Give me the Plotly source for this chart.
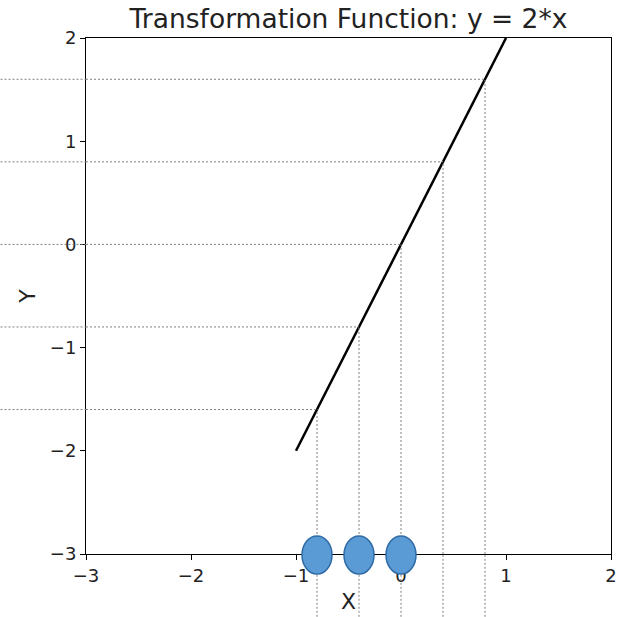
import plotly.graph_objects as go

# data
line_x = [-1, 1]
line_y = [-2, 2]
sample_x = [-0.8, -0.4, 0, 0.4, 0.8]
sample_y = [-1.6, -0.8, 0, 0.8, 1.6]
dot_x = [-0.8, -0.4, 0]
x_ticks = [-3, -2, -1, 0, 1, 2]
y_ticks = [-3, -2, -1, 0, 1, 2]
x_range = [-3, 2]
y_range = [-3, 2]

FONT = "DejaVu Sans"
GUIDE = dict(color="#808080", width=1, dash="2px,2px")

fig = go.Figure()
fig.add_trace(go.Scatter(x=line_x, y=line_y, mode="lines",
                         line=dict(color="black", width=2.5), showlegend=False,
                         hoverinfo="skip"))

shapes = []
for xv, yv in zip(sample_x, sample_y):
    shapes.append(dict(type="line", xref="x", yref="y", x0=xv, x1=xv,
                       y0=y_range[0], y1=yv, line=GUIDE, layer="above"))
    shapes.append(dict(type="line", xref="x", yref="paper", x0=xv, x1=xv,
                       y0=-0.3, y1=0, line=GUIDE, layer="above"))
    shapes.append(dict(type="line", xref="x", yref="y", x0=x_range[0], x1=yv / 2,
                       y0=yv, y1=yv, line=GUIDE, layer="above"))
    shapes.append(dict(type="line", xref="paper", yref="y", x0=-0.3, x1=0,
                       y0=yv, y1=yv, line=GUIDE, layer="above"))

for xv in dot_x:
    shapes.append(dict(type="circle", xref="x", yref="paper",
                       xsizemode="pixel", ysizemode="pixel",
                       xanchor=xv, yanchor=0,
                       x0=-15, x1=15, y0=-20, y1=18,
                       fillcolor="#5b9bd5", line=dict(color="#2e6aa6", width=1.5),
                       layer="above"))

fig.update_layout(
    width=621, height=617,
    margin=dict(l=86, r=10, t=38, b=63, autoexpand=False),
    paper_bgcolor="white", plot_bgcolor="white",
    font=dict(family=FONT, color="#222222"),
    title=dict(text="Transformation Function: y = 2*x", x=0.5, xref="paper",
               y=1 - 19 / 617, yref="container", yanchor="middle",
               xanchor="center", automargin=False,
               font=dict(size=26.5, family=FONT, color="#222222")),
    shapes=shapes,
    xaxis=dict(range=x_range, tickvals=x_ticks, ticks="outside", ticklen=5,
               tickcolor="black", showgrid=False, zeroline=False, automargin=False,
               showline=True, linecolor="black", linewidth=1, mirror=True,
               tickfont=dict(size=18, family=FONT, color="#222222"),
               title=dict(text="X", font=dict(size=22, family=FONT, color="#222222"),
                          standoff=9)),
    yaxis=dict(range=y_range, tickvals=y_ticks, ticks="outside", ticklen=5,
               tickcolor="black", showgrid=False, zeroline=False, automargin=False,
               showline=True, linecolor="black", linewidth=1, mirror=True,
               tickfont=dict(size=18, family=FONT, color="#222222"),
               title=dict(text="Y", font=dict(size=22, family=FONT, color="#222222"),
                          standoff=8)),
)

fig.write_html("out.html", config={"displayModeBar": False},
               post_script="document.body.style.margin='0';document.body.style.overflow='hidden';")
